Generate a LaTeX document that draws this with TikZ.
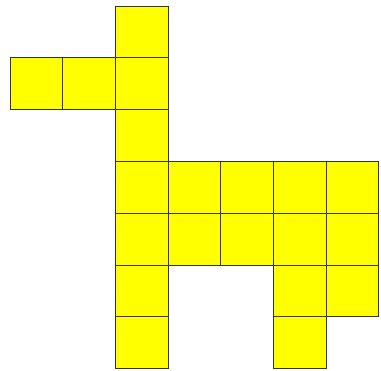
\documentclass[tikz,border=0pt]{standalone}
\definecolor{cellyellow}{RGB}{255,255,0}
\begin{document}
\begin{tikzpicture}[x=1pt,y=-1pt,
  cell/.style={draw=black!80,fill=cellyellow,line width=0.9pt,minimum width=52.7pt,minimum height=51.8pt,inner sep=0pt,outer sep=0pt,anchor=north west}]
\useasboundingbox (0,0) rectangle (381,371);
\foreach \c/\r in {2/0, 0/1, 1/1, 2/1, 2/2, 2/3, 3/3, 4/3, 5/3, 6/3, 2/4, 3/4, 4/4, 5/4, 6/4, 2/5, 5/5, 6/5, 2/6, 5/6}{
  \node[cell] (c\c\r) at ({10+52.7*\c},{6+51.8*\r}) {};
}
\end{tikzpicture}
\end{document}
